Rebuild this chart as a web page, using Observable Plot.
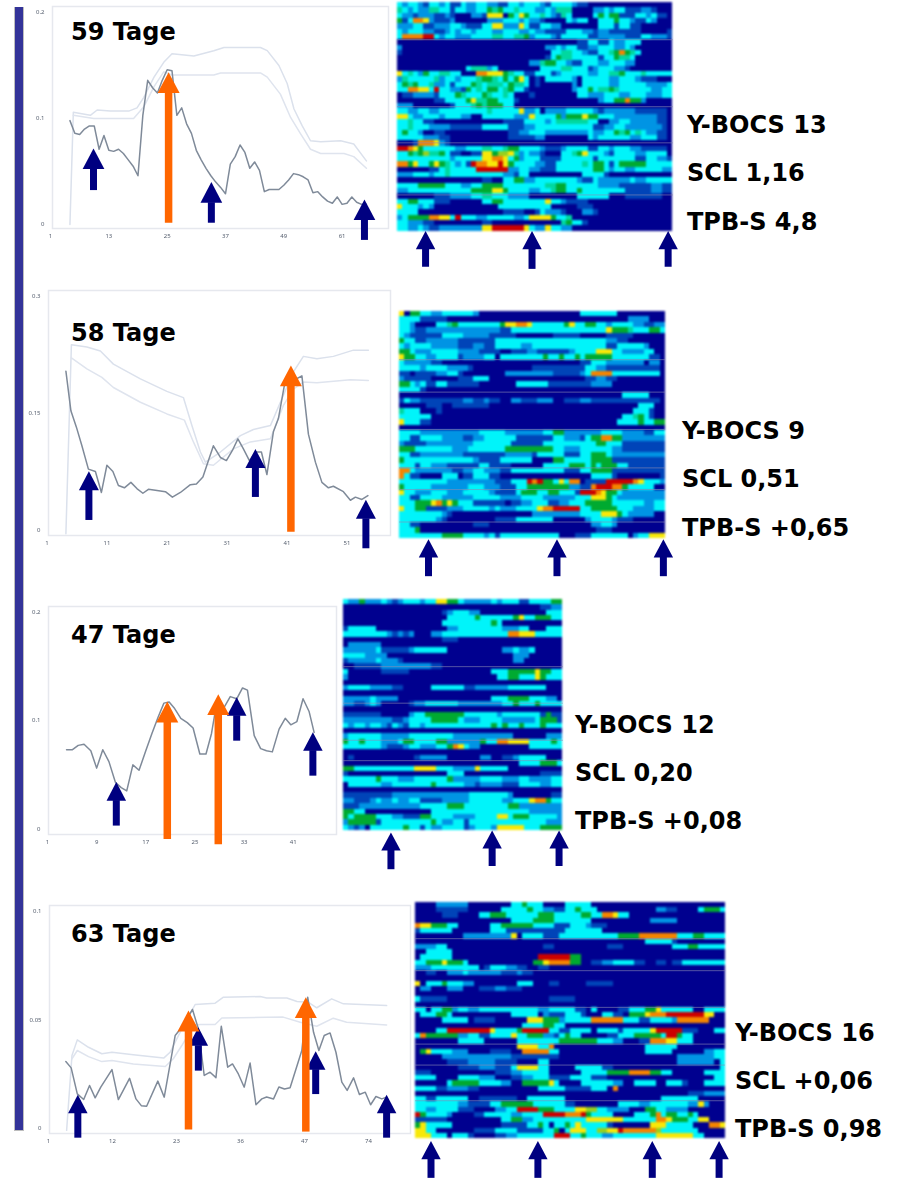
<!DOCTYPE html>
<html><head><meta charset="utf-8">
<script src="https://cdn.jsdelivr.net/npm/d3@7"></script>
<script src="https://cdn.jsdelivr.net/npm/@observablehq/plot@0.6"></script>
<style>
html,body{margin:0;padding:0;background:#fff}
#page{position:relative;width:905px;height:1181px;overflow:hidden}
#page svg{position:absolute;overflow:visible;background:none}
#page svg g[aria-label="line"]{filter:blur(.45px)}
#page svg g[aria-label="rect"]{filter:blur(.8px)}
#page svg g[aria-label*="tick label"]{filter:blur(.7px)}
.lbl{position:absolute;font:bold 24px "DejaVu Sans",sans-serif;color:#000;white-space:nowrap;line-height:1;transform:translateY(-50%);margin-top:1px}
#bar{position:absolute;left:14.4px;top:7px;width:7.7px;height:1123px;background:#333399;border:1.3px solid #bdbdbd;border-top:0}
</style></head><body><div id="page"><div id="bar"></div></div>
<script>
// ---------- line panel data ----------
const days1=[5,6,7,8,9,10,11,12,13,14,15,16,17,18,19,20,21,22,23,24,25,26,27,28,29,30,31,32,33,34,35,36,37,38,39,40,41,42,43,44,45,46,47,48,49,50,51,52,53,54,55,56,57,58,59,60,61,62,63,64,65,66];
const main1=[.098,.086,.085,.090,.093,.093,.071,.084,.070,.069,.071,.067,.061,.055,.046,.103,.136,.129,.124,.136,.146,.145,.103,.110,.095,.086,.070,.061,.053,.046,.040,.035,.029,.057,.064,.075,.068,.053,.059,.051,.031,.033,.033,.033,.037,.042,.048,.047,.045,.042,.030,.031,.026,.022,.020,.026,.019,.020,.026,.021,.019,.019];
const upDays1=[5,5.7,9.2,10.6,13.3,17.1,18.8,20.2,22.3,24.3,26,30.5,34.6,36.7,44.2,45.6,48,49.7,51.1,52.8,54.5,56.6,60.7,63.4,66];
const up1=[0,.106,.103,.108,.107,.107,.110,.120,.139,.153,.161,.159,.164,.167,.167,.164,.150,.133,.109,.093,.079,.078,.079,.076,.060];
const loDays1=[5.7,9.9,18.1,20.2,22.3,24.3,26,34.6,36,44.2,45.6,48.3,50.4,52.4,54.5,56.6,61.4,63.4,66];
const lo1=[.103,.100,.100,.111,.130,.144,.141,.141,.143,.143,.139,.123,.101,.086,.071,.067,.067,.064,.053];

const days2=[4.8,5.8,6.9,8,9.3,10.7,11.9,13,14.2,15.3,16.5,17.8,19,20.2,21.3,22.7,24.7,26.1,27.7,29.7,30.9,32.2,34.3,35.7,36.9,38.1,39.2,40.3,41.5,42.7,43.9,45,46.3,47.3,48.5,50.3,52,53.3,54.7,56,57.3,58.3,60.3,61.7,62.7,64,65.2];
const main2=[.204,.153,.132,.108,.078,.075,.048,.083,.075,.057,.054,.061,.053,.047,.052,.051,.049,.042,.048,.058,.059,.068,.108,.093,.089,.102,.117,.104,.089,.100,.100,.071,.126,.143,.186,.192,.198,.123,.087,.061,.054,.056,.049,.038,.042,.039,.044];
const upDays2=[4.8,5.9,9,11.7,14.3,19.7,25,28.3,30,31.7,32.7,35.7,39.7,42.3,45.7,48.3,50.3,52.3,55,58.3,62.3,65.3];
const up2=[-.005,.238,.235,.230,.213,.194,.178,.170,.134,.100,.087,.100,.121,.129,.134,.173,.203,.223,.220,.223,.231,.231];
const loDays2=[5.9,9,12,14.3,19.7,25,28.5,30.3,32.3,34.3,38.3,41.7,45.7,48.3,50.3,52.3,55,61.7,65.3];
const lo2=[.221,.207,.196,.183,.164,.149,.141,.113,.085,.083,.104,.113,.117,.160,.181,.190,.189,.193,.192];

const days3=[4.1,5.07,6,6.95,8.05,9,10,11,12.05,13,13.9,14.9,15.9,17,18,19,19.95,20.8,21.7,22.7,23.75,24.7,25.8,26.8,27.7,28.65,29.75,30.75,31.8,32.75,33.55,34.65,35.7,36.65,37.6,38.7,39.7,40.6,41.6,42.6,43.6,44.4];
const main3=[.073,.073,.077,.078,.072,.056,.073,.062,.043,.038,.035,.059,.054,.072,.088,.103,.116,.117,.111,.102,.098,.093,.069,.069,.088,.120,.112,.122,.120,.130,.128,.086,.074,.072,.071,.092,.102,.096,.099,.120,.108,.089];

const days4=[4.25,5.25,6.4,7.6,8.7,9.75,10.8,12.9,14.1,16.2,17.4,18.4,19.4,21.5,22.7,24.75,26,28,29.1,30.2,31.3,32.4,33.4,34.6,35.5,36.6,37.7,38.8,39.9,41,41.9,43.2,44.2,45.25,46.3,48.5,49.6,50.7,51.7,52.7,53.8,54.9,56,57,58.2,59.3,60.4,61.4,62.4,63.5,64.4];
const main4=[.0307,.0278,.0158,.0132,.0197,.014,.0189,.027,.0132,.023,.0135,.0104,.0101,.0217,.0143,.0427,.0465,.0547,.0458,.0243,.0258,.0233,.047,.0281,.0296,.025,.0189,.03,.0108,.0135,.0144,.0135,.019,.0181,.0186,.0358,.0604,.0442,.0358,.0427,.0439,.035,.0212,.0174,.0232,.0155,.0166,.0108,.0146,.0135,.0143];
const upDays4=[4.4,5.4,6.4,8.5,11,12.9,16.9,22.6,23.8,26,28.5,32.25,33.8,40.7,41.9,45.7,47.6,49.75,51.3,54.1,56.3,64.4];
const up4=[-.001,.0335,.0407,.0373,.0343,.035,.0338,.0323,.035,.0458,.057,.0576,.0604,.0607,.06,.06,.0584,.058,.0555,.0596,.0573,.0565];
const loDays4=[5.4,6.4,8.5,11,12.9,16.9,22.9,24.4,26,28.2,29.4,32.25,33.5,45,48.2,51.3,54.4,56.9,64.4];
const lo4=[.032,.0358,.033,.0307,.0312,.0296,.0284,.032,.0381,.0473,.0478,.0478,.0508,.0512,.0488,.047,.0507,.0488,.0476];

// arrows: day, tip value, tail value
const blue1={x:[9.85,34.1,65.6],tip:[.0717,.040,.0236],tail:[.032,.0012,-.015]};
const orange1={x:[25.3],tip:[.1437],tail:[.0012]};
const blue2={x:[9.4,42.7,64.8],tip:[.0754,.104,.0386],tail:[.012,.0416,-.0244]};
const orange2={x:[49.8],tip:[.2113],tail:[-.003]};
const blue3={x:[12.2,31.8,44.2],tip:[.0431,.1215,.0892],tail:[.0025,.0809,.0486]};
const orange3={x:[20.5,28.8],tip:[.1175,.1243],tail:[-.0098,-.0148]};
const blue4={x:[6.5,29.1,51.1,64.4],tip:[.0154,.0465,.0355,.0154],tail:[-.0046,.0263,.0155,-.0046]};
const orange4={x:[27.25,49.25],tip:[.0542,.0604],tail:[-.0008,-.0018]};

const xLabels1=["1","13","25","37","49","61"], yTicks1=[0,.1,.2];
const xLabels2=["1","11","21","31","41","51"], yTicks2=[0,.15,.3];
const xLabels3=["1","9","17","25","33","41"], yTicks3=[0,.1,.2];
const xLabels4=["1","12","23","36","47","74"], yTicks4=[0,.05,.1];
const titles=["59 Tage","58 Tage","47 Tage","63 Tage"];
const scores1=["Y-BOCS 13","SCL 1,16","TPB-S 4,8"];
const scores2=["Y-BOCS 9","SCL 0,51","TPB-S +0,65"];
const scores3=["Y-BOCS 12","SCL 0,20","TPB-S +0,08"];
const scores4=["Y-BOCS 16","SCL +0,06","TPB-S 0,98"];

// ---------- heat map levels: 0 navy .. 3 cyan .. 5 green .. 7 yellow .. 9 red ----------
const heat1=[
"3233213323113223322113323332133332110000000000000000",
"4323224433133223354533433322324440000223233111221000",
"3221222112100022177705375334321430000353551113323110",
"5138872111200000022233323221000032330033353321132000",
"2223311222332111337722273113322000000033313311000000",
"3233322112323323332233322322111133322122111111000001",
"3888899323322233334433445233321333331122222111332221",
"0000000000000000000000000000000000113311322333000000",
"2000000000000000000000000000223233112233322320000000",
"1000000000000000000000000000033443321133458543000000",
"0000000000000000000000000000135443333313354430000000",
"0000000000000000000000000224553321133322333220000000",
"0000000000000344423000000003333443331233322100000000",
"7343253344330008877754331133312333332233445333433333",
"2433333423323334554353573010333332033333223332111000",
"3545334223133354344435443010000002033333223333322223",
"3388773933221534355345331000000002335344543333332233",
"0112222133354333543343000100000000332223332233322233",
"0000000113333574455333100000000000000023355855200000",
"2220000000133345455533000000000000000000000000000000",
"3322332233333333343333372230222233333212222221111110",
"7732233323332200333333222733335255575533322222222110",
"3343311000000000000011113333234444443300223322222110",
"3343332222111111333331112233333333333112233222222210",
"3533200110000000000001122333222222223223354534322110",
"3333322211000000000001111122000000003233333322333110",
"0001888721000000000000000000000000000000000000000000",
"9987533333322333443345533332111233331133233322111110",
"3354564453110011775667423221000334573332133332233330",
"3333333333233333778873523331111333333133333331133221",
"8857335754323198877975333322113333343553135555533333",
"0000001134333339999992233221113333333553233223333322",
"2223332334333333333322133000000000033331000000000000",
"0000000000000000110033552233333333211322222232233333",
"3333555553332233555533333333445533333322221111112211",
"2233333333333355557753333223345533533333333111112211",
"0000000111222233443332222000000000333333000111111100",
"3355333111000000335533333333733211110000000000000000",
"7333232000000000000333333333300000111000000000000000",
"3333000000000000000011110013222100022100000000000000",
"2355558877393332233333223777753340000000000000000000",
"3322211000000000110000000000000453310000000000000000",
"3322321122222222779999997322733220000000000000000000"];
const heat2=[
"70553322333333200000000000000000003333333000000000",
"33331111100000000000000000000000000000000002222000",
"33200003345333333335778873333335733553323333221122",
"33211222222222222221133333333333333333375554333553",
"32111111333322222111110000000111110000011111000000",
"53311222222111111133333333333333333333322110000000",
"32333322222111221133333223333333333333311333332000",
"55322233333222211110011122111111233337773322223300",
"75533223333122223303333333353353353555553333333110",
"32222211000000000000000000000000001133322222220220",
"33332333322221000000000001111111111332211111111110",
"11011112233100000000222222222111112388883333333330",
"21111100000111333000000000000000000112211000000000",
"55323113311111100000003333331111111122220000000000",
"33331000000000000000000000000000000000000000000000",
"00000000000000000000000000000000000000000033333000",
"13221111111122112110022111222001112211111111111110",
"00000111001111111000000000000000000000000000033300",
"43330001000000000000000000000000000000000000333100",
"33333300000000000000000000000000000000000033453100",
"73331100000000000000000000000000000000000333353355",
"00000000000000000000000000000000000000000000000000",
"33332222222222233333222222233552222222333322221133",
"33113333222211223333331111111332221355885522222222",
"21111222222222333333311111133333333335533311111111",
"55533333332223333333555555555332223333332211111111",
"33112222222211111111222221333331113355532222222222",
"53333333333333211113333330000553333355551111111111",
"33313322211111133111100000033333555353555331111111",
"88322222221122332221133333333331113355551111111111",
"83110000333011333110000000000000000033331000000001",
"33333333322222222211133398955373880111199999873332",
"53333322222223332221113355555555221189998853333300",
"73322233322233333211113555335533319998755322222222",
"33113333222222333332222333322222233377753222222222",
"33355578575333111111011223331122333555553333332233",
"73355111122233333232223333788999993355555333222233",
"33333333210000000000000002222222223333777532222200",
"33333332100000000011113333333000000233332111000000",
"33110000000000111000000000000000000022332000000000",
"33350000000000000000000000000000000001110000000000",
"33333333555533332313333333333300011133333330233777"];
const heat3=[
"3225222321233323377553222223233311333355",
"0000000000000000000000000000000000001122",
"0000000000000000001233322000000000000333",
"0000000000000000000333335333333573355533",
"0000000000000000003333333335300000000000",
"1333330000000000000223333333322233000333",
"3333333321212000223333333333338877733333",
"0000000000000000001110000000000000000000",
"0222222000000000000000000000000000000000",
"2222223111112333333000000000022322300000",
"3333222200000000000000000000000222000000",
"1222223222100000000000000000000220000000",
"0011111222222222110000000000000000000000",
"3000000111110000000000000003335555575533",
"2000000000000000000000000000335533375333",
"0000000000000000000000000000000000000000",
"2333322221100000333333112222223333333000",
"0000000000000000000000000000000000000000",
"2222232222000000000000000003335555333220",
"2211232000001223333332222222233533353333",
"0000000000000000000000000000000000000000",
"1111111000002335555555333333233333331511",
"2222222221123333555553222333322222235551",
"3233233213213323333333333335353353335333",
"0000000000000000000000000000000000000000",
"2333333222223333333322222222222000000222",
"5335333222355333355222222533887777333353",
"3333333211123322233587322000000000333333",
"0000000000000000000000000000000000000000",
"0100000000000122222000000220011233333000",
"0000000000000000000000000000000033335553",
"5533333333333777733322227333330000000000",
"1000000000000000000333000000000000001111",
"3333335333222333333522222333322233222233",
"0333333223333333533333221222211133332233",
"0000000000000000000000000000000000000000",
"1111111112222222222222233333332000000011",
"2211123223223311112222233333322333788533",
"1112222222222233333555333333335522222222",
"5533000000000000333333333333333333222222",
"5355553332211155333322223333773555333332",
"2555551333333333532233133333333333333222",
"3212033333353313223333123332777773335555"];
const heat4=[
"0000222222000000003353330000333330000000000000000000000000",
"0000111111000000333335332211335333000000000002211000035553",
"0000011100003355533333355533333553388733000000000000000000",
"0000000000000000003333555533333330000000000022222000000000",
"8775553300000033555555333311133321110000000000000000000000",
"1333333000000033311111111111333333300000000000000000000000",
"0000000002222222227033331113333333333355558888888333553333",
"0000000000000000000000000000000000000000000333331000000000",
"2222330000000000000000001100000000001110000000003335533333",
"0033333000000000000000000000000000000000000000000000000000",
"0333333000000000000000099999955000000000000000000000000000",
"3355575553000000000000557888855001122333311001101133333333",
"2223333333330133322110011000000000000000000000000000000000",
"0011002223222222111211000000000000000000000000000000000000",
"0000000000000000000000000000000000000000000000000000000000",
"7033353332200000000333000110000011111000000000000000000000",
"0220002220001112211100000000000000000000000000000000000000",
"0000000000000000000000000000000000000000000000000000000000",
"3111110000000000000000000111110000000000000000000000000000",
"0000000000000000000000000000000000000000000000000000000000",
"3303355233223333333333322333331103000011333557333333003333",
"0333553000000000003333302111333100033110555788899999997700",
"0000033333011110000007775552333338888883331133332888888000",
"0000000000000000000033335533000000000000000000000000000000",
"0000339999999973333599999331133330333313333379999911100033",
"3855555522331133337335552213533000001133355555399533000000",
"0000000033333000000333333335555555333220001188877333000000",
"0000000000000000000777733800000000000000000333333000000000",
"0573333222000011110088888330000000000000000333330000002233",
"0000022222222222221111111110000000000000000000000222222233",
"0000001111222221111000033000000000000000000000000222222203",
"0000000011112221113777733000003333311000000000000000000003",
"1110000000000001112233333000000333335555888855330000003333",
"3333000033332220001122333111133331110000000000000000000033",
"0000003555553333220055555730000333333220033330033310003333",
"3333112222110000000000033333111113330800000000000000000000",
"0000000000000000000000000000000000000000000000000001112222",
"3311333333001111111003333333000000000000000000333333300000",
"3333333322111133555555333333110000000033332233333332272000",
"3322333311100002233999955533337766332222000553322220000000",
"9533332000011333332233339999888953333000033358355335300000",
"1111110000000000335522333333333377777773333338875553377000",
"5733333000000000111113353033537333331000000077733333000887",
"7733000000011113333111113350377733667798888886333333300000",
"7773330333100001122333333399933533322333333337777777330000"];

const hmLines1=[7,19.6,26.4,36.2], hmLines2=[8.9,14.9,21.8,28.9,32.9,38.9], hmLines3=[12.5,19.3,26.2,30], hmLines4=[6.9,13,20,27,31,37.8];
const hmArrow1={col:[5.3,25.4,51.1],tip:[0,0,0],tail:[6.8,7.2,6.8]};
const hmArrow2={col:[5.45,29.6,49.6],tip:[.1,.1,.1],tail:[7,7,7]};
const hmArrow3={col:[8.65,27.1,39.3],tip:[.37,0,0],tail:[7.3,6.7,6.7]};
const hmArrow4={col:[2.9,22.9,44.3,56.8],tip:[.5,.5,.5,.5],tail:[7.6,7.6,7.6,7.6]};

const levelColors=["#00008f","#0044b8","#0094e4","#00f4fa","#00d8a0","#00aa30","#96d020","#f8e808","#f48400","#cc0000"];
const NAVY="#000080", ORANGE="#ff6600";

// ---------- drawing ----------
const page=document.getElementById("page");
function headSymbol(ratio){return {draw(c,size){const r=Math.sqrt(size/Math.PI);c.moveTo(0,0);c.lineTo(r,2*r*ratio);c.lineTo(-r,2*r*ratio);c.closePath();}};}
function zip(a){return a.x.map((x,i)=>({x,tip:a.tip[i],tail:a.tail[i]}));}
function arrowMarks(a,color,w,headW,headUnits){
  const d=zip(a), hh=headW*.95;
  return [
    Plot.ruleX(d,{x:"x",y1:"tail",y2:r=>r.tip-hh*headUnits,stroke:color,strokeWidth:w}),
    Plot.dot(d,{x:"x",y:"tip",r:headW/2,fill:color,stroke:"none",symbol:headSymbol(.95)})
  ];
}
function place(svg,l,t){svg.style.left=l+"px";svg.style.top=t+"px";page.appendChild(svg);}

function linePanel(o){
  const ml=22,mr=34,mt=10,mb=52;
  const [x0,y0,x1,y1]=o.frame, w=x1-x0,h=y1-y0;
  const dom=[(x0-o.at1)/o.ppd+1,(x1-o.at1)/o.ppd+1];
  const vdom=[(o.zero-y1)/o.ppu,(o.zero-y0)/o.ppu];
  const ticks=o.labels.map((_,i)=>1+i*o.step);
  const env=[];
  if(o.up){env.push(Plot.line(o.upDays.map((d,i)=>({d,v:o.up[i]})),{x:"d",y:"v",stroke:"#dbe1ec",strokeWidth:1.5}));
           env.push(Plot.line(o.loDays.map((d,i)=>({d,v:o.lo[i]})),{x:"d",y:"v",stroke:"#dfe4ee",strokeWidth:1.5}));}
  const svg=Plot.plot({
    width:Math.ceil(w+ml+mr),height:Math.ceil(h+mt+mb),marginLeft:ml,marginRight:mr,marginTop:mt,marginBottom:mb,
    style:{background:"none"},
    x:{domain:dom,range:[ml,ml+w]},y:{domain:vdom,range:[mt+h,mt]},
    marks:[
      Plot.frame({stroke:"#e6e8ee",strokeWidth:1.5}),
      Plot.axisX({ticks,tickSize:0,tickPadding:5,fontSize:6,fill:"#555e6e",label:null,tickFormat:(d,i)=>o.labels[i]}),
      Plot.axisY({ticks:o.yTicks,tickSize:0,tickPadding:8,fontSize:6,fill:"#555e6e",label:null,tickFormat:d=>String(d)}),
      ...env,
      Plot.line(o.days.map((d,i)=>({d,v:o.main[i]})),{x:"d",y:"v",stroke:"#7f8a99",strokeWidth:1.5}),
      ...arrowMarks(o.blue,NAVY,7,o.blueW,1/o.ppu),
      ...arrowMarks(o.orange,ORANGE,7.5,22,1/o.ppu)
    ]});
  place(svg,x0-ml,y0-mt);
}
function heatPanel(o){
  const ml=14,mr=14,mt=2,mb=52;
  const [x0,y0,x1,y1]=o.box,w=x1-x0,h=y1-y0;
  const n=o.rows.length,m=o.cols;
  const cells=[];
  o.rows.forEach((s,r)=>{const t=s.padEnd(m,"0");for(let c=0;c<m;c++)cells.push({r,c,l:+t[c]});});
  const rowPx=h/n;
  const a={x:o.arrow.col,tip:o.arrow.tip.map(v=>v+n),tail:o.arrow.tail.map(v=>v+n)};
  const svg=Plot.plot({
    width:Math.ceil(w+ml+mr),height:Math.ceil(h+mt+mb),marginLeft:ml,marginRight:mr,marginTop:mt,marginBottom:mb,
    style:{background:"none"},
    x:{domain:[0,m],range:[ml,ml+w],axis:null},y:{domain:[0,n],range:[mt,mt+h],axis:null},
    color:{type:"ordinal",domain:d3.range(10),range:levelColors},
    marks:[
      Plot.rect(cells,{x1:"c",x2:d=>d.c+1,y1:"r",y2:d=>d.r+1,fill:"l",inset:0,shapeRendering:"crispEdges"}),
      Plot.ruleY(o.lines,{stroke:"#8a8ab4",strokeOpacity:.6,strokeWidth:1}),
      Plot.ruleX(zip(a),{x:"x",y1:"tail",y2:r=>r.tip+18/rowPx,stroke:NAVY,strokeWidth:7}),
      Plot.dot(zip(a),{x:"x",y:"tip",r:9.7,fill:NAVY,stroke:"none",symbol:headSymbol(.93)})
    ]});
  place(svg,x0-ml,y0-mt);
}
function labels(list,x,ys){list.forEach((t,i)=>{const d=document.createElement("div");d.className="lbl";d.textContent=t;d.style.left=x+"px";d.style.top=ys[i]+"px";page.appendChild(d);});}

linePanel({frame:[52,6,388,228],at1:50,ppd:4.86,step:12,zero:224,ppu:1060,labels:xLabels1,yTicks:yTicks1,days:days1,main:main1,upDays:upDays1,up:up1,loDays:loDays1,lo:lo1,blue:blue1,orange:orange1,blueW:21.7});
linePanel({frame:[48.3,290,390,534.3],at1:46.7,ppd:5,step:12,zero:529.3,ppu:777.7,labels:xLabels2,yTicks:yTicks2,days:days2,main:main2,upDays:upDays2,up:up2,loDays:loDays2,lo:lo2,blue:blue2,orange:orange2,blueW:20});
linePanel({frame:[47.7,606,335,833.3],at1:46.7,ppd:6.143,step:8,zero:828.3,ppu:1083.3,labels:xLabels3,yTicks:yTicks3,days:days3,main:main3,blue:blue3,orange:orange3,blueW:19.5});
linePanel({frame:[49.3,905,410,1132.3],at1:48.3,ppd:5.333,step:12,zero:1127.7,ppu:2170,labels:xLabels4,yTicks:yTicks4,days:days4,main:main4,upDays:upDays4,up:up4,loDays:loDays4,lo:lo4,blue:blue4,orange:orange4,blueW:19.5});

heatPanel({box:[397.3,1.7,672.7,230.3],cols:52,rows:heat1,lines:hmLines1,arrow:hmArrow1});
heatPanel({box:[399,311,665,538.3],cols:50,rows:heat2,lines:hmLines2,arrow:hmArrow2});
heatPanel({box:[343.3,599,562.7,830],cols:40,rows:heat3,lines:hmLines3,arrow:hmArrow3});
heatPanel({box:[415,902.3,725,1138.3],cols:58,rows:heat4,lines:hmLines4,arrow:hmArrow4});

labels([titles[0]],71,[31]);labels([titles[1]],71,[332]);labels([titles[2]],71,[634]);labels([titles[3]],71,[933]);
labels(scores1,687,[124,172,221]);
labels(scores2,682,[430,478,527]);
labels(scores3,575,[724,772,820]);
labels(scores4,735,[1032,1080,1128]);
</script></body></html>
